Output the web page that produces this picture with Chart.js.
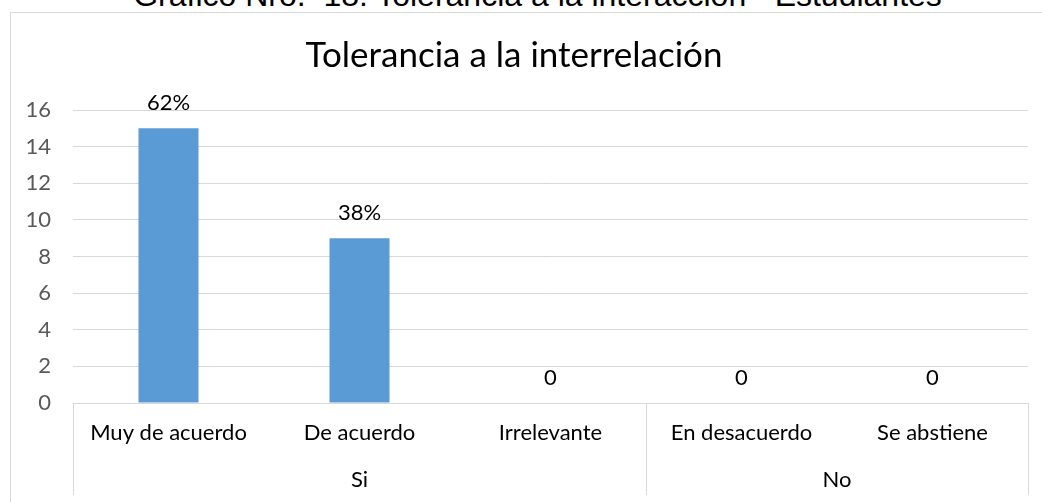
<!DOCTYPE html>
<html>
<head>
<meta charset="utf-8">
<script src="https://cdn.jsdelivr.net/npm/chart.js@4.4.1/dist/chart.umd.min.js"></script>
<style>
  html, body { margin:0; padding:0; width:1042px; height:502px; overflow:hidden; background:#fff; }
  #doc-title { position:absolute; left:0; width:1075px; top:-23px; text-align:center; line-height:37px;
    font-family:"Liberation Sans", Arial, sans-serif; font-size:32px; color:#000; white-space:pre; }
  #frame { position:absolute; left:10px; top:12px; width:1200px; height:700px; border:1px solid #d9d9d9; }
  #wrap { position:absolute; left:0; top:0; width:1042px; height:502px; }
</style>
</head>
<body>
<div id="doc-title">Gráfico Nro.  18: Tolerancia a la interacción - Estudiantes</div>
<div id="frame"></div>
<div id="wrap"><canvas id="c" width="1042" height="502"></canvas></div>
<script>
const chartTitle = "Tolerancia a la interrelación";
const categories = ["Muy de acuerdo", "De acuerdo", "Irrelevante", "En desacuerdo", "Se abstiene"];
const values = [15, 9, 0, 0, 0];
const valueLabels = ["62%", "38%", "0", "0", "0"];
const groups = ["Si", "No"];
const groupSizes = [3, 2];
const yTicks = [0, 2, 4, 6, 8, 10, 12, 14, 16];

const FONT = "Lato, 'Open Sans', sans-serif";

const groupPlugin = {
  id: 'groupAxis',
  afterDraw(chart) {
    const ctx = chart.ctx;
    const xs = chart.scales.x;
    const top = chart.chartArea.bottom;
    const half = (xs.getPixelForValue(1) - xs.getPixelForValue(0)) / 2;
    ctx.save();
    ctx.strokeStyle = '#d9d9d9';
    ctx.lineWidth = 1;
    let start = 0;
    const bounds = [start];
    groups.forEach((g, gi) => { start += groupSizes[gi]; bounds.push(start); });
    bounds.forEach(b => {
      const x = Math.round(xs.getPixelForValue(b) - half) + 0.5;
      ctx.beginPath(); ctx.moveTo(x, top); ctx.lineTo(x, top + 92); ctx.stroke();
    });
    ctx.fillStyle = '#000';
    ctx.font = "22px " + FONT;
    ctx.textAlign = 'center';
    ctx.textBaseline = 'middle';
    groups.forEach((g, gi) => {
      const a = xs.getPixelForValue(bounds[gi]) - half;
      const b = xs.getPixelForValue(bounds[gi + 1]) - half;
      ctx.fillText(g, (a + b) / 2, top + 77);
    });
    ctx.restore();
  }
};

const valueLabelPlugin = {
  id: 'valueLabels',
  afterDatasetsDraw(chart) {
    const ctx = chart.ctx;
    const meta = chart.getDatasetMeta(0);
    ctx.save();
    ctx.fillStyle = '#000';
    ctx.font = "22px " + FONT;
    ctx.textAlign = 'center';
    ctx.textBaseline = 'alphabetic';
    meta.data.forEach((bar, i) => {
      ctx.fillText(valueLabels[i], bar.x, bar.y - 18);
    });
    ctx.restore();
  }
};

new Chart(document.getElementById('c'), {
  type: 'bar',
  data: {
    labels: categories,
    datasets: [{
      data: values,
      backgroundColor: '#5b9bd5',
      borderWidth: 0,
      categoryPercentage: 1,
      barPercentage: 0.314
    }]
  },
  options: {
    responsive: false,
    animation: false,
    devicePixelRatio: 1,
    layout: { padding: { left: 0, right: 14, top: 0, bottom: 0 } },
    plugins: {
      legend: { display: false },
      tooltip: { enabled: false },
      title: {
        display: true,
        text: chartTitle,
        color: '#000',
        font: { family: FONT, size: 35, weight: 'normal' },
        padding: { top: 35, bottom: 33 }
      }
    },
    scales: {
      x: {
        grid: { display: false, drawTicks: false },
        border: { display: false },
        ticks: { color: '#000', font: { family: FONT, size: 22 }, padding: 17, maxRotation: 0, autoSkip: false },
        afterFit(s) { s.height = 99; }
      },
      y: {
        min: 0, max: 16,
        afterBuildTicks(s) { s.ticks = yTicks.map(v => ({ value: v })); },
        grid: { color: '#d9d9d9', drawTicks: false },
        border: { display: false },
        ticks: { color: '#595959', font: { family: FONT, size: 22 }, padding: 22 },
        afterFit(s) { s.width = 73; }
      }
    }
  },
  plugins: [groupPlugin, valueLabelPlugin]
});
</script>
</body>
</html>
